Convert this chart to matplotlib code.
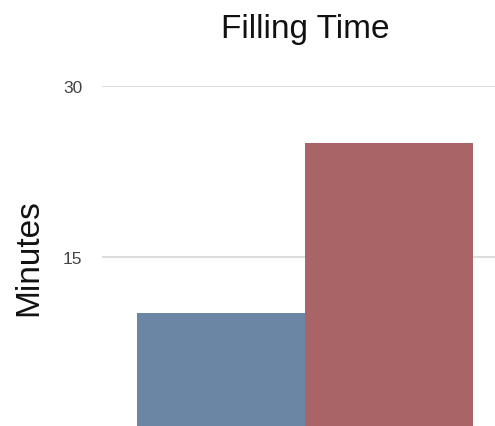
import matplotlib
matplotlib.use("Agg")
import matplotlib.pyplot as plt

categories = ["A", "B"]
minutes = [10, 25]
bar_colors = ["#6b85a5", "#a86466"]
yticks = [15, 30]

plt.rcParams['font.family'] = ['Liberation Sans', 'DejaVu Sans']

fig = plt.figure(figsize=(4.95, 4.27), dpi=100)
W, H = 495, 427
ax = fig.add_axes([102 / W, (H - 428) / H, 393 / W, 341 / H])

x = list(range(len(categories)))
ax.bar(x, minutes, width=1.0, color=bar_colors, zorder=3)

ax.set_ylim(0, 30)
ax.set_xlim(-0.5 - 35 / 168, 1.5 + 22 / 168)
ax.set_yticks(yticks)
ax.set_yticklabels([str(t) for t in yticks], fontsize=12.5, color="#444444")
ax.tick_params(axis="y", length=0, pad=14)
ax.set_xticks([])
ax.grid(axis="y", color="#dddddd", linewidth=1.5, zorder=0)
for s in ax.spines.values():
    s.set_visible(False)

fig.text(305 / W, 1 - 38 / H, "Filling Time", ha="center", va="baseline",
         fontsize=24, color="#111111")
fig.text(29 / W, 1 - 258 / H, "Minutes", ha="center", va="center",
         rotation=90, fontsize=24, color="#111111")

fig.savefig("out.png", dpi=100)
